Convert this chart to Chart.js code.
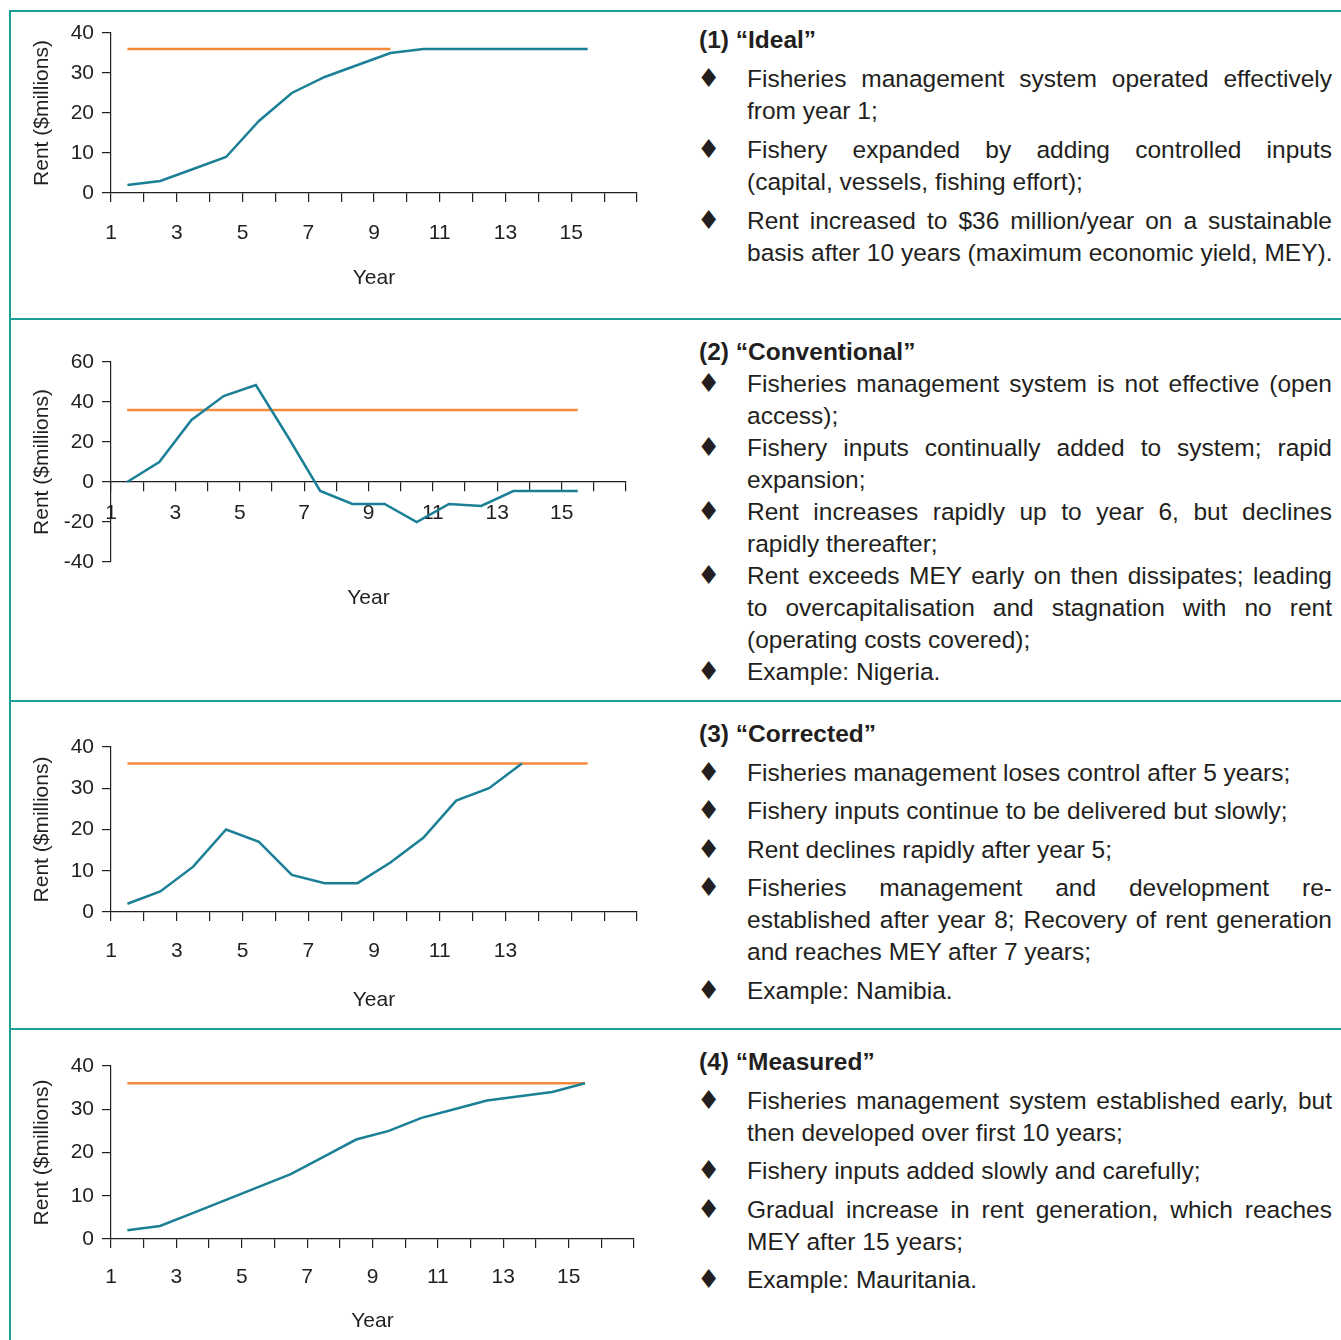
<!DOCTYPE html>
<html>
<head>
<meta charset="utf-8">
<script src="https://cdn.jsdelivr.net/npm/chart.js@4.4.1/dist/chart.umd.min.js"></script>
<style>
  html, body { margin: 0; padding: 0; background: #fff; }
  body { width: 1341px; height: 1340px; position: relative; overflow: hidden; }
  canvas { position: absolute; left: 0; }
  .rule { position: absolute; background: #1a9f97; z-index: 2; }
  .txt {
    position: absolute; left: 699px; width: 633px;
    font-family: 'Liberation Sans', Arial, sans-serif;
    font-size: 24.5px; line-height: 32px; color: #231f20;
  }
  .ttl { font-weight: bold; }
  .b { position: relative; padding-left: 48px; margin-top: 7px; }
  .tight .b { margin-top: 0; }
  .dia {
    position: absolute; left: -2px; top: -1px; width: 18px; text-align: center;
    font-family: 'DejaVu Sans', sans-serif; font-size: 26px;
  }
  .j { text-align: justify; text-align-last: justify; }
  .l { white-space: nowrap; }
</style>
</head>
<body>

<div class="rule" style="left:9px; top:10px; width:2px; height:1330px"></div>
<div class="rule" style="left:9px; top:10px; width:1332px; height:2px"></div>
<div class="rule" style="left:9px; top:318px; width:1332px; height:2px"></div>
<div class="rule" style="left:9px; top:700px; width:1332px; height:2px"></div>
<div class="rule" style="left:9px; top:1028px; width:1332px; height:2px"></div>

<canvas id="c1" width="660" height="308" style="top:10px"></canvas>
<canvas id="c2" width="660" height="382" style="top:318px"></canvas>
<canvas id="c3" width="660" height="328" style="top:700px"></canvas>
<canvas id="c4" width="660" height="312" style="top:1028px"></canvas>

<div class="txt" style="top:24px">
  <div class="ttl">(1) “Ideal”</div>
  <div class="b"><span class="dia">♦</span>
    <div class="j">Fisheries management system operated effectively</div>
    <div class="l">from year 1;</div>
  </div>
  <div class="b"><span class="dia">♦</span>
    <div class="j">Fishery expanded by adding controlled inputs</div>
    <div class="l">(capital, vessels, fishing effort);</div>
  </div>
  <div class="b"><span class="dia">♦</span>
    <div class="j">Rent increased to $36 million/year on a sustainable</div>
    <div class="l">basis after 10 years (maximum economic yield, MEY).</div>
  </div>
</div>

<div class="txt tight" style="top:336px">
  <div class="ttl">(2) “Conventional”</div>
  <div class="b"><span class="dia">♦</span>
    <div class="j">Fisheries management system is not effective (open</div>
    <div class="l">access);</div>
  </div>
  <div class="b"><span class="dia">♦</span>
    <div class="j">Fishery inputs continually added to system; rapid</div>
    <div class="l">expansion;</div>
  </div>
  <div class="b"><span class="dia">♦</span>
    <div class="j">Rent increases rapidly up to year 6, but declines</div>
    <div class="l">rapidly thereafter;</div>
  </div>
  <div class="b"><span class="dia">♦</span>
    <div class="j">Rent exceeds MEY early on then dissipates; leading</div>
    <div class="j">to overcapitalisation and stagnation with no rent</div>
    <div class="l">(operating costs covered);</div>
  </div>
  <div class="b"><span class="dia">♦</span>
    <div class="l">Example: Nigeria.</div>
  </div>
</div>

<div class="txt" style="top:718px">
  <div class="ttl">(3) “Corrected”</div>
  <div class="b" style="margin-top:6.5px"><span class="dia">♦</span>
    <div class="l">Fisheries management loses control after 5 years;</div>
  </div>
  <div class="b" style="margin-top:6.5px"><span class="dia">♦</span>
    <div class="l">Fishery inputs continue to be delivered but slowly;</div>
  </div>
  <div class="b" style="margin-top:6.5px"><span class="dia">♦</span>
    <div class="l">Rent declines rapidly after year 5;</div>
  </div>
  <div class="b" style="margin-top:6.5px"><span class="dia">♦</span>
    <div class="j">Fisheries management and development re-</div>
    <div class="j">established after year 8; Recovery of rent generation</div>
    <div class="l">and reaches MEY after 7 years;</div>
  </div>
  <div class="b" style="margin-top:6.5px"><span class="dia">♦</span>
    <div class="l">Example: Namibia.</div>
  </div>
</div>

<div class="txt" style="top:1046px">
  <div class="ttl">(4) “Measured”</div>
  <div class="b" style="margin-top:6.5px"><span class="dia">♦</span>
    <div class="j">Fisheries management system established early, but</div>
    <div class="l">then developed over first 10 years;</div>
  </div>
  <div class="b" style="margin-top:6.5px"><span class="dia">♦</span>
    <div class="l">Fishery inputs added slowly and carefully;</div>
  </div>
  <div class="b" style="margin-top:6.5px"><span class="dia">♦</span>
    <div class="j">Gradual increase in rent generation, which reaches</div>
    <div class="l">MEY after 15 years;</div>
  </div>
  <div class="b" style="margin-top:6.5px"><span class="dia">♦</span>
    <div class="l">Example: Mauritania.</div>
  </div>
</div>

<script>
// Years of each scenario (values are plotted in the middle of each year band)
const years = [1, 2, 3, 4, 5, 6, 7, 8, 9, 10, 11, 12, 13, 14, 15];
const xTickLabels = ['1', '3', '5', '7', '9', '11', '13', '15'];
const xTickLabelsCorrected = ['1', '3', '5', '7', '9', '11', '13'];

// (1) Ideal
const rentIdeal = [2, 3, 6, 9, 18, 25, 29, 32, 35, 36, 36, 36, 36, 36, 36];
const meyIdeal = [36, 36, 36, 36, 36, 36, 36, 36, 36];

// (2) Conventional
const rentConventional = [0, 10, 31, 43, 48.5, 22.5, -4.5, -11, -11, -20, -11, -12, -4.5, -4.5, -4.5];
const meyConventional = [36, 36, 36, 36, 36, 36, 36, 36, 36, 36, 36, 36, 36, 36, 36];

// (3) Corrected
const rentCorrected = [2, 5, 11, 20, 17, 9, 7, 7, 12, 18, 27, 30, 36];
const meyCorrected = [36, 36, 36, 36, 36, 36, 36, 36, 36, 36, 36, 36, 36, 36, 36];

// (4) Measured
const rentMeasured = [2, 3, 6, 9, 12, 15, 19, 23, 25, 28, 30, 32, 33, 34, 36];
const meyMeasured = [36, 36, 36, 36, 36, 36, 36, 36, 36, 36, 36, 36, 36, 36, 36];

const BLUE = '#1b7f96';
const ORANGE = '#f58a3c';
const INK = '#231f20';
const FONT = 'Liberation Sans';

function toPoints(values) {
    return values.map((v, i) => ({ x: years[i] + 0.5, y: v }));
}

function makeChart(id, opts) {
    const ctx = document.getElementById(id).getContext('2d');
    return new Chart(ctx, {
        type: 'line',
        data: {
            datasets: [{
                data: toPoints(opts.rent),
                borderColor: BLUE,
                borderWidth: 2.5,
                pointRadius: 0,
                tension: 0,
                fill: false
            }, {
                data: toPoints(opts.mey),
                borderColor: ORANGE,
                borderWidth: 2.5,
                pointRadius: 0,
                tension: 0,
                fill: false
            }]
        },
        options: {
            responsive: false,
            animation: false,
            events: [],
            layout: {
                padding: { left: 0, top: opts.padTop, right: opts.padRight, bottom: opts.padBottom || 0 }
            },
            plugins: {
                legend: { display: false },
                tooltip: { enabled: false }
            },
            scales: {
                x: {
                    type: 'linear',
                    position: opts.xPosition,
                    min: 1,
                    max: 17,
                    afterFit: (scale) => { scale.height = opts.xHeight; },
                    border: { display: true, color: INK, width: 1.2 },
                    grid: { drawOnChartArea: false, drawTicks: true, tickLength: 9, color: INK, lineWidth: 1.2 },
                    ticks: {
                        stepSize: 1,
                        autoSkip: false,
                        maxRotation: 0,
                        padding: opts.xTickPad,
                        color: INK,
                        font: { family: FONT, size: 21 },
                        callback: (v) => opts.xLabels.includes(String(v)) ? String(v) : ''
                    },
                    title: {
                        display: true,
                        text: 'Year',
                        color: INK,
                        font: { family: FONT, size: 21 },
                        padding: { top: 0, bottom: opts.xTitlePad }
                    }
                },
                y: {
                    min: opts.yMin,
                    max: opts.yMax,
                    afterFit: (scale) => { scale.width = 111; },
                    border: { display: true, color: INK, width: 1.2 },
                    grid: { drawOnChartArea: false, drawTicks: true, tickLength: 9, color: INK, lineWidth: 1.2 },
                    ticks: {
                        stepSize: opts.yStep,
                        padding: 8,
                        color: INK,
                        font: { family: FONT, size: 21 }
                    },
                    title: {
                        display: true,
                        text: 'Rent ($millions)',
                        color: INK,
                        font: { family: FONT, size: 21 },
                        padding: { top: 29.4, bottom: 0 }
                    }
                }
            }
        }
    });
}

makeChart('c1', {
    rent: rentIdeal, mey: meyIdeal, xLabels: xTickLabels,
    yMin: 0, yMax: 40, yStep: 10,
    padTop: 23, padRight: 23, xHeight: 125, xPosition: 'bottom', xTickPad: 18.4, xTitlePad: 26.9
});
makeChart('c2', {
    rent: rentConventional, mey: meyConventional, xLabels: xTickLabels,
    yMin: -40, yMax: 60, yStep: 20,
    padTop: 44, padRight: 34, padBottom: 138, xHeight: 138, xPosition: { y: 0 }, xTickPad: 9.4, xTitlePad: 9.4
});
makeChart('c3', {
    rent: rentCorrected, mey: meyCorrected, xLabels: xTickLabelsCorrected,
    yMin: 0, yMax: 40, yStep: 10,
    padTop: 47, padRight: 23, xHeight: 116, xPosition: 'bottom', xTickPad: 17.5, xTitlePad: 15.4
});
makeChart('c4', {
    rent: rentMeasured, mey: meyMeasured, xLabels: xTickLabels,
    yMin: 0, yMax: 40, yStep: 10,
    padTop: 38, padRight: 26, xHeight: 101, xPosition: 'bottom', xTickPad: 16.4, xTitlePad: 6.4
});
</script>
</body>
</html>
